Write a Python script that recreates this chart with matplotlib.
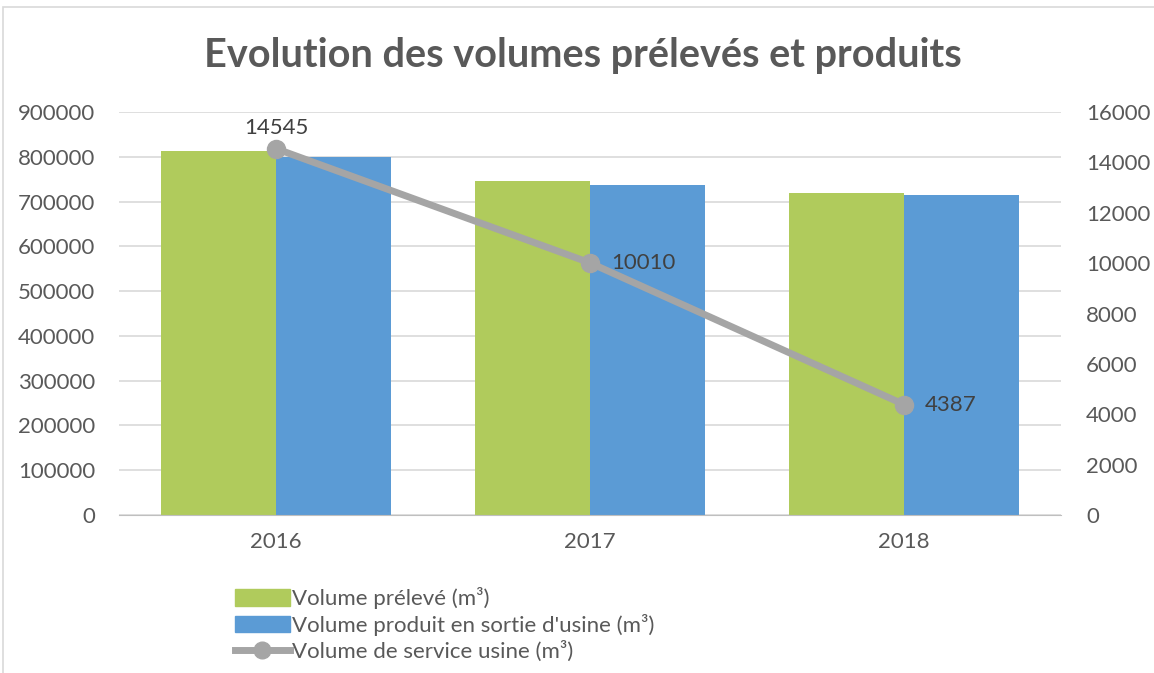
import matplotlib
matplotlib.use("Agg")
import matplotlib.pyplot as plt
import numpy as np
from matplotlib.patches import Rectangle
from matplotlib.lines import Line2D

years = ["2016", "2017", "2018"]
vol_preleve = [813500, 746500, 718400]
vol_produit = [800100, 737000, 713900]
vol_service = [14545, 10010, 4387]
left_ticks = list(range(0, 900001, 100000))
right_ticks = list(range(0, 16001, 2000))

plt.rcParams['font.family'] = ['Lato', 'DejaVu Sans']
GREEN = "#B0CB5C"
BLUE = "#5B9BD5"
GREYL = "#A5A5A5"
TXT = "#595959"

W, H = 1154, 673
fig = plt.figure(figsize=(W/100, H/100), dpi=100)
fig.patches.append(Rectangle((3/W, -0.05), 1.0, 1.05 - 7/H, transform=fig.transFigure,
                             fill=False, edgecolor="#D9D9D9", linewidth=1.2))

ax = fig.add_axes([119/W, 1 - 515/H, (1061-119)/W, (515-112)/H])
x = np.arange(len(years))
bw = 0.365
ax.bar(x - bw/2, vol_preleve, bw, color=GREEN, zorder=2, label="Volume prélevé (m³)")
ax.bar(x + bw/2, vol_produit, bw, color=BLUE, zorder=2, label="Volume produit en sortie d'usine (m³)")
ax.set_xlim(-0.5, len(years) - 0.5)
ax.set_ylim(0, 900000)
ax.set_yticks(left_ticks)
ax.set_yticklabels([str(v) for v in left_ticks])
ax.set_xticks(x)
ax.set_xticklabels(years)
ax.grid(axis='y', color="#D9D9D9", linewidth=1.2, zorder=0)
ax.set_axisbelow(True)
for s in ["top", "right", "left"]:
    ax.spines[s].set_visible(False)
ax.spines["bottom"].set_color("#BFBFBF")
ax.tick_params(axis='y', length=0, labelsize=16, colors=TXT, pad=17)
ax.tick_params(axis='x', length=0, labelsize=16, colors=TXT, pad=12)

ax2 = ax.twinx()
ax2.set_ylim(0, 16000)
ax2.set_yticks(right_ticks)
ax2.set_yticklabels([str(v) for v in right_ticks])
for s in ax2.spines.values():
    s.set_visible(False)
ax2.tick_params(axis='y', length=0, labelsize=16, colors=TXT, pad=18)
ax2.plot(x, vol_service, color=GREYL, linewidth=5, marker='o', markersize=13,
         markerfacecolor=GREYL, markeredgecolor=GREYL, zorder=5, solid_capstyle='round')
offsets = [(0, 8, 'center', 'bottom'), (15, 0, 'left', 'center'), (15, 0, 'left', 'center')]
for xi, v, (dx, dy, ha, va) in zip(x, vol_service, offsets):
    ax2.annotate(str(v), (xi, v), xytext=(dx, dy), textcoords='offset points',
                 ha=ha, va=va, fontsize=16, color="#404040")

fig.text(583/W, 1 - 55/H, "Evolution des volumes prélevés et produits", ha='center', va='center',
         fontsize=28.5, fontweight='bold', color=TXT)

handles = [Rectangle((0, 0), 1, 1, color=GREEN), Rectangle((0, 0), 1, 1, color=BLUE),
           Line2D([0], [0], color=GREYL, linewidth=5, marker='o', markersize=12)]
labels = ["Volume prélevé (m³)", "Volume produit en sortie d'usine (m³)", "Volume de service usine (m³)"]
fig.legend(handles, labels, loc='upper left', bbox_to_anchor=(224/W, 1 - 576/H), frameon=False,
           fontsize=16, labelcolor=TXT, handlelength=2.45, handleheight=0.75, handletextpad=0.1,
           labelspacing=0.22, borderpad=0)

fig.savefig("out.png", dpi=100)
